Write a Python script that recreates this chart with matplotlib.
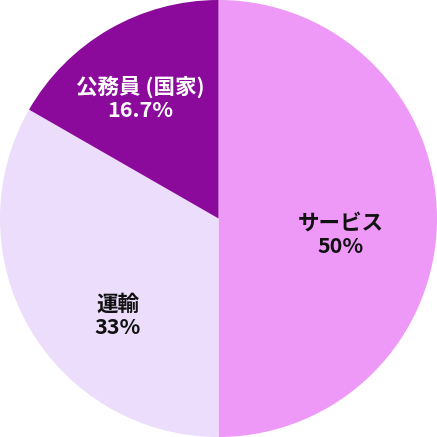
import matplotlib
matplotlib.use("Agg")
import matplotlib.pyplot as plt

# データ
categories = ["サービス", "運輸", "公務員 (国家)"]
values = [50, 33.3, 16.7]
pct_labels = ["50%", "33%", "16.7%"]
colors = ["#EE99F7", "#EBDDFB", "#8B0A9C"]
text_colors = ["#111111", "#111111", "#FFFFFF"]

plt.rcParams["font.family"] = ["Noto Sans CJK JP", "DejaVu Sans"]

fig = plt.figure(figsize=(4.37, 4.37), dpi=100)
ax = fig.add_axes([0, 0, 1, 1])

wedges, _ = ax.pie(
    values,
    colors=colors,
    startangle=90,
    counterclock=False,
    radius=1.0,
    wedgeprops=dict(linewidth=0),
)

# ラベル位置 (半径比)
label_pos = [(0.56, -0.075), (-0.46, -0.445), (-0.36, 0.55)]
for name, pct, (x, y), tc in zip(categories, pct_labels, label_pos, text_colors):
    ax.text(x, y, f"{name}\n{pct}", ha="center", va="center",
            fontsize=15.5, fontweight="bold", color=tc, linespacing=1.15)

ax.set_xlim(-1, 1)
ax.set_ylim(-1, 1)
ax.set_aspect("equal")
ax.axis("off")

fig.savefig("out.png", dpi=100)
